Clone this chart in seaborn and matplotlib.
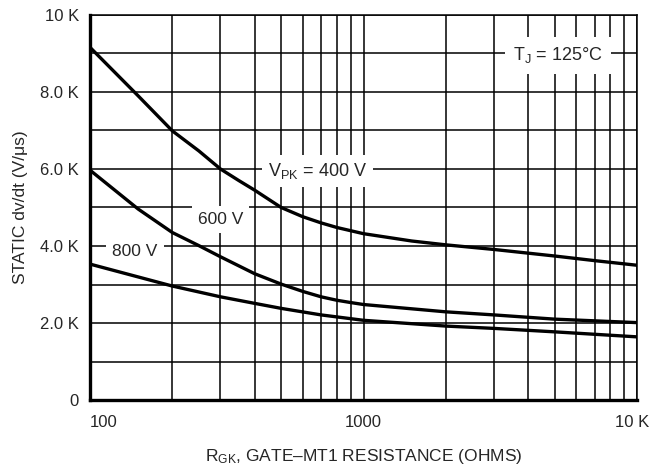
"""Static dv/dt vs gate-MT1 resistance, re-drawn with seaborn."""

import pandas as pd
import matplotlib
matplotlib.use("Agg")
import matplotlib.pyplot as plt
import matplotlib.ticker as mticker
import seaborn as sns

# Data (R_GK in ohms, static dv/dt in V/us)
r_400 = [100, 150, 200, 250, 300, 350, 400, 500, 600, 700, 800, 1000, 1500, 2000, 3000, 5000, 7000, 10000]
dvdt_400 = [9160, 7900, 6990, 6470, 6000, 5700, 5450, 5000, 4760, 4600, 4480, 4320, 4130, 4030, 3910, 3740, 3620, 3500]

r_600 = [100, 150, 200, 250, 300, 400, 500, 600, 700, 800, 900, 1000, 2000, 3000, 5000, 10000]
dvdt_600 = [5970, 4960, 4350, 4010, 3720, 3280, 3010, 2820, 2680, 2590, 2530, 2480, 2290, 2210, 2100, 2010]

r_800 = [100, 200, 300, 400, 500, 700, 1000, 2000, 3000, 5000, 10000]
dvdt_800 = [3530, 2960, 2680, 2510, 2380, 2210, 2070, 1920, 1860, 1770, 1640]

curve_names = ["400 V", "600 V", "800 V"]

x_tick_vals = [100, 1000, 10000]
x_tick_labels = ["100", "1000", "10 K"]
y_tick_vals = [0, 2000, 4000, 6000, 8000, 10000]
y_tick_labels = ["0", "2.0 K", "4.0 K", "6.0 K", "8.0 K", "10 K"]

# long-form table for seaborn
df = pd.concat([
    pd.DataFrame({"r": r, "dvdt": v, "curve": name})
    for r, v, name in zip([r_400, r_600, r_800], [dvdt_400, dvdt_600, dvdt_800], curve_names)
], ignore_index=True)

sns.set_theme(style="white")
plt.rcParams["font.family"] = ["Liberation Sans", "DejaVu Sans"]
plt.rcParams["mathtext.fontset"] = "custom"
plt.rcParams["mathtext.rm"] = "Liberation Sans"

fig = plt.figure(figsize=(6.52, 4.73), dpi=100)
ax = fig.add_axes([90 / 652, 1 - 400 / 473, (637 - 90) / 652, (400 - 15) / 473])

ax.set_xscale("log")
ax.set_xlim(100, 10000)
ax.set_ylim(0, 10000)

# grid: every 1 K on y, log decades + sub-decades on x
ax.yaxis.set_major_locator(mticker.FixedLocator(y_tick_vals))
ax.yaxis.set_minor_locator(mticker.MultipleLocator(1000))
ax.xaxis.set_major_locator(mticker.FixedLocator(x_tick_vals))
ax.xaxis.set_minor_locator(mticker.LogLocator(base=10, subs=range(2, 10)))
ax.xaxis.set_minor_formatter(mticker.NullFormatter())
ax.grid(True, which="both", color="black", linewidth=1.1)
ax.set_axisbelow(True)

sns.lineplot(data=df, x="r", y="dvdt", hue="curve", units="curve", estimator=None,
             palette=["black"] * 3, linewidth=2.4, legend=False, ax=ax, sort=False)

# last x label ("10 K") sits at the figure edge, so it is drawn separately, right-aligned
ax.set_xticks(x_tick_vals)
ax.set_xticklabels(x_tick_labels[:-1] + [""], fontsize=12)
ax.get_xticklabels()[0].set_horizontalalignment("left")
ax.annotate(x_tick_labels[-1], xy=(x_tick_vals[-1], 0), xycoords=ax.get_xaxis_transform(),
            xytext=(9, -11), textcoords="offset points", ha="right", va="top", fontsize=12)
ax.set_yticks(y_tick_vals)
ax.set_yticklabels(y_tick_labels, fontsize=12)
ax.tick_params(which="both", length=0)
ax.tick_params(axis="x", pad=11)
ax.tick_params(axis="y", pad=8)

for side in ["left", "bottom"]:
    ax.spines[side].set_linewidth(2.4)
for side in ["top", "right"]:
    ax.spines[side].set_linewidth(1.1)
for sp in ax.spines.values():
    sp.set_color("black")
    sp.set_zorder(5)

box = dict(boxstyle="square,pad=0.35", facecolor="white", edgecolor="none")
ax.text(680, 5950, r"$\mathregular{V_{PK}}$ = 400 V", ha="center", va="center", fontsize=13, bbox=box, zorder=4)
ax.text(300, 4680, "600 V", ha="center", va="center", fontsize=12.5, bbox=box, zorder=4)
ax.text(146, 3850, "800 V", ha="center", va="center", fontsize=12.5, bbox=box, zorder=4)
ax.text(5150, 8950, r"$\mathregular{T_J}$ = 125°C", ha="center", va="center", fontsize=13,
        bbox=dict(boxstyle="square,pad=0.45", facecolor="white", edgecolor="none"), zorder=4)

ax.set_xlabel(r"$\mathregular{R_{GK}}$, GATE–MT1 RESISTANCE (OHMS)", fontsize=12.5, labelpad=12)
ax.set_ylabel("STATIC dv/dt (V/μs)", fontsize=12.5, labelpad=9)

fig.savefig("out.png", dpi=100)
plt.close(fig)
